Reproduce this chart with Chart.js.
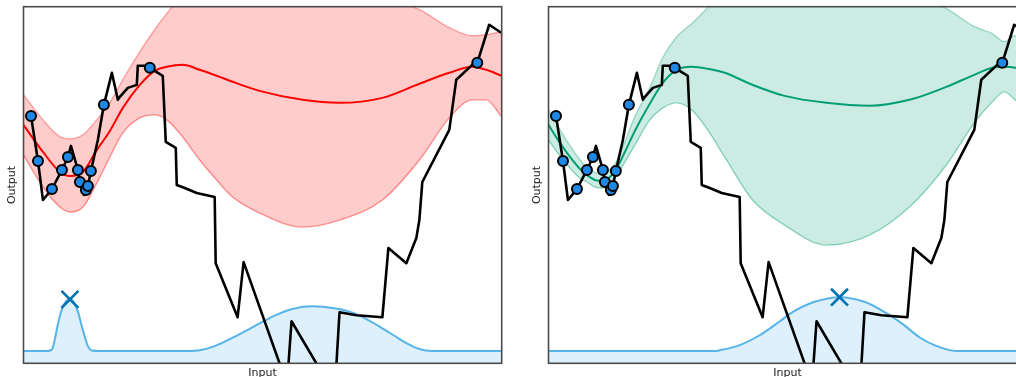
<!DOCTYPE html>
<html>
<head>
<meta charset="utf-8">
<script src="https://cdn.jsdelivr.net/npm/chart.js@4.4.1/dist/chart.umd.min.js"></script>
<style>
  html, body { margin: 0; padding: 0; background: #fff; overflow: hidden; width: 1016px; height: 377px; }
  .panel { position: absolute; top: 0; width: 520px; height: 377px; }
  #leftPanel { left: 0; }
  #rightPanel { left: 525px; }
</style>
</head>
<body>
<div class="panel" id="leftPanel"><canvas id="chartLeft" width="520" height="377"></canvas></div>
<div class="panel" id="rightPanel"><canvas id="chartRight" width="520" height="377"></canvas></div>
<script>
// ---- axis labels ----
const xLabel = 'Input';
const yLabel = 'Output';

// ---- true objective (black line) ----
const truthX = [0.115, 0.157, 0.303, 0.407, 0.595, 0.804, 0.929, 0.992, 1.138, 1.180, 1.263, 1.347, 1.409, 1.555, 1.681, 1.848, 1.973, 2.015, 2.182, 2.370, 2.390, 2.578, 2.641, 2.912, 2.975, 3.184, 3.205, 3.372, 3.622, 3.998, 4.019, 4.478, 4.603, 5.511, 5.605, 6.507, 6.608, 6.962, 7.505, 7.630, 8.006, 8.215, 8.278, 8.340, 8.904, 9.050, 9.384, 9.489, 9.739, 9.990];
const truthY = [0.997, 0.969, 0.337, -0.211, -0.056, 0.211, 0.393, 0.548, 0.211, 0.042, -0.140, -0.014, 0.197, 0.632, 1.124, 1.573, 1.194, 1.236, 1.362, 1.404, 1.671, 1.671, 1.643, 1.531, 0.604, 0.520, 0.000, -0.042, -0.112, -0.169, -1.096, -1.854, -1.081, -2.795, -1.910, -2.935, -1.784, -1.826, -1.854, -0.885, -1.096, -0.744, -0.492, 0.042, 0.772, 1.475, 1.685, 1.713, 2.247, 2.135];

// ---- observed samples ----
const obsX = [0.157, 0.303, 0.595, 0.804, 0.929, 1.138, 1.180, 1.305, 1.347, 1.409, 1.681, 2.641, 9.489];
const obsY = [0.969, 0.337, -0.056, 0.211, 0.393, 0.211, 0.042, -0.070, -0.014, 0.197, 1.124, 1.643, 1.713];

// ---- left model: posterior mean and band ----
const bandXLeft = [0, 0.407, 0.762, 0.971, 1.242, 1.534, 1.806, 2.077, 2.432, 2.745, 2.996, 3.330, 3.685, 4.040, 4.374, 4.937, 5.835, 6.608, 7.505, 8.278, 8.904, 9.384, 9.676, 10];
const meanLeft  = [0.843, 0.463, 0.183, 0.126, 0.183, 0.492, 0.758, 1.081, 1.404, 1.601, 1.657, 1.685, 1.615, 1.531, 1.447, 1.320, 1.194, 1.152, 1.222, 1.419, 1.573, 1.657, 1.615, 1.531];
const upperLeft = [1.264, 0.913, 0.674, 0.646, 0.702, 0.913, 1.152, 1.475, 1.868, 2.177, 2.402, 2.669, 2.851, 2.949, 2.992, 3.020, 2.978, 2.795, 2.626, 2.458, 2.205, 2.093, 2.107, 2.149];
const lowerLeft = [0.421, -0.028, -0.309, -0.379, -0.309, 0.028, 0.393, 0.730, 0.941, 0.983, 0.913, 0.674, 0.351, 0.070, -0.169, -0.393, -0.590, -0.492, -0.211, 0.351, 0.941, 1.194, 1.194, 0.955];

// ---- left acquisition ----
const acqXLeft = [0, 0.511, 0.595, 0.658, 0.720, 0.804, 0.887, 0.971, 1.054, 1.138, 1.221, 1.284, 1.347, 1.430, 1.597, 3.476, 3.685, 3.998, 4.374, 4.729, 4.937, 5.209, 5.564, 6.044, 6.503, 6.816, 7.171, 7.505, 7.756, 8.006, 8.278, 8.528, 10];
const acqYLeft = [0, 0, 0.03, 0.25, 0.55, 0.85, 1.01, 1.05, 0.99, 0.8, 0.5, 0.28, 0.1, 0.01, 0, 0, 0.015, 0.10, 0.27, 0.45, 0.56, 0.70, 0.84, 0.91, 0.87, 0.80, 0.65, 0.46, 0.31, 0.16, 0.04, 0, 0];
const nextLeft = [0.971, 1.05];

// ---- right model: posterior mean and band ----
const bandXRight = [0, 0.240, 0.449, 0.658, 0.804, 0.971, 1.138, 1.305, 1.430, 1.597, 1.806, 2.119, 2.390, 2.683, 2.996, 3.330, 3.685, 4.269, 4.937, 5.814, 6.712, 7.547, 8.319, 8.904, 9.280, 9.530, 9.760, 10];
const meanRight  = [0.843, 0.590, 0.393, 0.225, 0.140, 0.070, 0.056, 0.126, 0.239, 0.463, 0.758, 1.138, 1.433, 1.615, 1.657, 1.629, 1.573, 1.404, 1.250, 1.152, 1.110, 1.194, 1.376, 1.545, 1.643, 1.657, 1.643, 1.587];
const upperRight = [1.053, 0.772, 0.548, 0.351, 0.239, 0.169, 0.154, 0.225, 0.337, 0.604, 0.955, 1.362, 1.784, 2.079, 2.261, 2.486, 2.753, 3.020, 3.062, 3.146, 2.921, 2.697, 2.472, 2.219, 2.121, 2.008, 2.093, 2.093];
const lowerRight = [0.632, 0.407, 0.239, 0.098, 0.042, -0.028, -0.042, 0.028, 0.140, 0.323, 0.562, 0.913, 1.081, 1.152, 1.053, 0.772, 0.393, -0.211, -0.562, -0.843, -0.702, -0.309, 0.281, 0.871, 1.166, 1.306, 1.194, 1.081];

// ---- right acquisition ----
const acqXRight = [0, 3.476, 3.580, 3.998, 4.415, 4.833, 5.104, 5.564, 6.086, 6.608, 7.067, 7.443, 7.756, 8.069, 8.528, 10];
const acqYRight = [0, 0, 0.015, 0.12, 0.32, 0.60, 0.79, 1.0, 1.094, 1.0, 0.768, 0.52, 0.28, 0.12, 0, 0];
const nextRight = [6.086, 1.094];

function pts(xs, ys) { return xs.map((x, i) => ({ x: x, y: ys[i] })); }

// frame around the plotting area plus the two axis titles
const framePlugin = {
  id: 'frameAndLabels',
  afterDraw(chart) {
    const { ctx, chartArea: a } = chart;
    ctx.save();
    ctx.strokeStyle = '#4a4a4a';
    ctx.lineWidth = 1.6;
    ctx.strokeRect(a.left, a.top, a.right - a.left, a.bottom - a.top);
    ctx.fillStyle = '#222';
    ctx.font = '11px "DejaVu Sans"';
    ctx.textAlign = 'center';
    ctx.textBaseline = 'alphabetic';
    ctx.fillText(xLabel, (a.left + a.right) / 2, 376);
    ctx.translate(15, (a.top + a.bottom) / 2);
    ctx.rotate(-Math.PI / 2);
    ctx.fillText(yLabel, 0, 0);
    ctx.restore();
  }
};

function makePanel(canvasId, m) {
  const datasets = [
    { // 0: observations
      data: pts(obsX, obsY), showLine: false, order: 0,
      pointRadius: 5, pointBorderWidth: 2, pointBackgroundColor: '#1e88e5', pointBorderColor: '#000',
      xAxisID: 'x', yAxisID: 'y'
    },
    { // 1: next query location
      data: [{ x: m.next[0], y: m.next[1] }], showLine: false, order: -1,
      pointStyle: 'crossRot', pointRadius: 12, pointBorderWidth: 2.6, pointBorderColor: '#0072b2',
      xAxisID: 'x', yAxisID: 'acq'
    },
    { // 2: true objective
      data: pts(truthX, truthY), order: 1, borderColor: '#000', borderWidth: 2.6,
      borderJoinStyle: 'round', pointRadius: 0, tension: 0, fill: false,
      xAxisID: 'x', yAxisID: 'y'
    },
    { // 3: posterior mean
      data: pts(m.bandX, m.mean), order: 2, borderColor: m.color, borderWidth: 2,
      pointRadius: 0, cubicInterpolationMode: 'monotone', fill: false,
      xAxisID: 'x', yAxisID: 'y'
    },
    { // 4: upper edge of band, filled down to the lower edge
      data: pts(m.bandX, m.upper), order: 3, borderColor: m.edge, borderWidth: 1.4,
      pointRadius: 0, cubicInterpolationMode: 'monotone',
      fill: 5, backgroundColor: m.fill,
      xAxisID: 'x', yAxisID: 'y'
    },
    { // 5: lower edge of band
      data: pts(m.bandX, m.lower), order: 3, borderColor: m.edge, borderWidth: 1.4,
      pointRadius: 0, cubicInterpolationMode: 'monotone', fill: false,
      xAxisID: 'x', yAxisID: 'y'
    },
    { // 6: acquisition function
      data: pts(m.acqX, m.acqY), order: 5, borderColor: '#56b4e9', borderWidth: 2,
      pointRadius: 0, cubicInterpolationMode: 'monotone',
      fill: 'start', backgroundColor: 'rgba(86,180,233,0.2)',
      xAxisID: 'x', yAxisID: 'acq'
    }
  ];
  return new Chart(document.getElementById(canvasId), {
    type: 'line',
    data: { datasets: datasets },
    options: {
      responsive: false,
      animation: false,
      events: [],
      layout: { autoPadding: false, padding: { left: 23.5, top: 6.7, right: 18.3, bottom: 13.7 } },
      plugins: { legend: { display: false }, tooltip: { enabled: false }, filler: { propagate: false } },
      scales: {
        x: { type: 'linear', min: 0, max: 10, display: false },
        y: { type: 'linear', min: -2.5, max: 2.5, display: false },
        acq: { type: 'linear', position: 'right', min: -0.25, max: 7, display: false }
      }
    },
    plugins: [framePlugin]
  });
}

makePanel('chartLeft', {
  bandX: bandXLeft, mean: meanLeft, upper: upperLeft, lower: lowerLeft,
  acqX: acqXLeft, acqY: acqYLeft, next: nextLeft,
  color: '#ff0000', edge: '#ff9b9b', fill: 'rgba(255,0,0,0.2)'
});
makePanel('chartRight', {
  bandX: bandXRight, mean: meanRight, upper: upperRight, lower: lowerRight,
  acqX: acqXRight, acqY: acqYRight, next: nextRight,
  color: '#009e73', edge: '#97d6c4', fill: 'rgba(0,158,115,0.2)'
});
</script>
</body>
</html>
